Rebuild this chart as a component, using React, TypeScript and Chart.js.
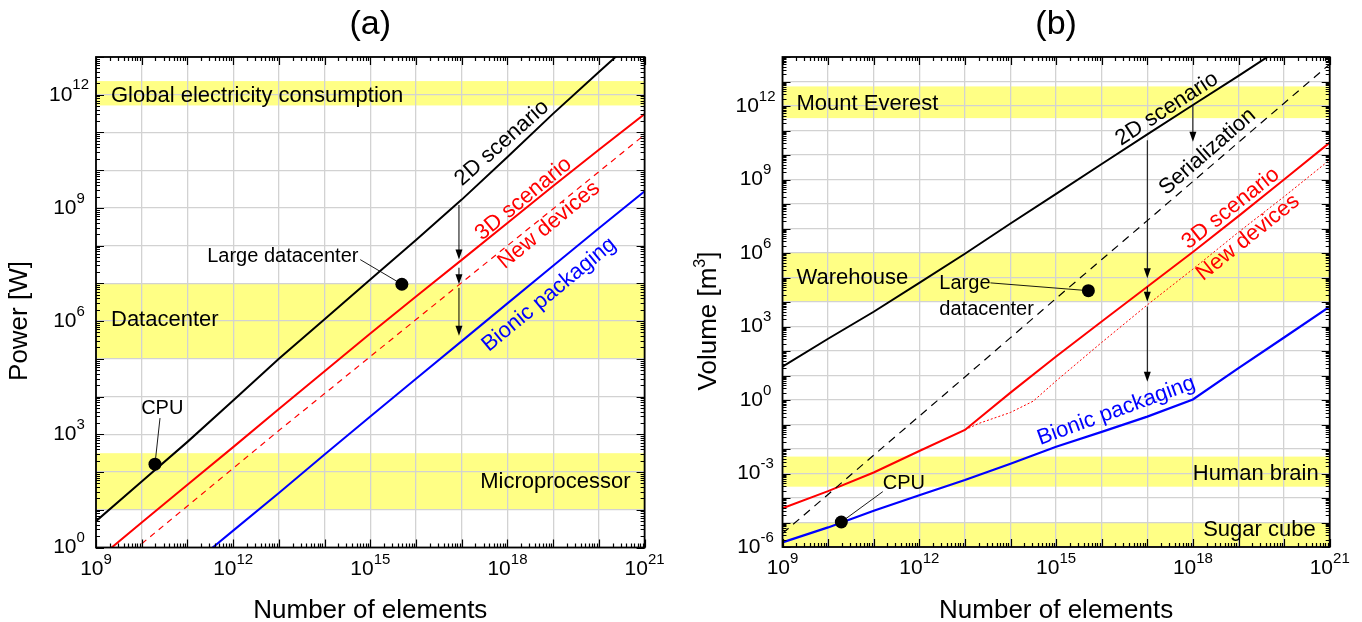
import React, { useEffect, useRef } from 'react';
import { Chart, registerables } from 'chart.js';

Chart.register(...registerables);

const FONT = '"Liberation Sans", Arial, Helvetica, sans-serif';
const BAND_COLOR = '#ffff85';
const GRID_COLOR = '#d2d2d2';
const RED = '#ff0000';
const BLUE = '#0000ff';
const BLACK = '#000000';

// ---------------- Panel (a): Power [W] ----------------
const elementsA = [1e9, 1e10, 1e11, 1e12, 1e13, 1e14, 1e15, 1e16, 1e17, 1e18, 1e19, 1e20, 1e21];
const power2D = [5.0, 56, 630, 7.9e3, 1.0e5, 1.12e6, 1.26e7, 1.41e8, 1.66e9, 2.24e10, 3.16e11, 3.98e12, 5.0e13];
const power3D = [0.45, 4.6, 46, 457, 4.7e3, 4.7e4, 4.7e5, 4.5e6, 4.2e7, 4.0e8, 3.8e9, 3.5e10, 3.1e11];
const elementsNewDevA = [1e10, 1e11, 1e12, 1e13, 1e14, 1e15, 1e16, 1e17, 1e18, 1e19, 1e20, 1e21];
const powerNewDev = [1.26, 12.6, 126, 1.26e3, 1.2e4, 1.15e5, 1.1e6, 1.05e7, 1.0e8, 9.5e8, 9.1e9, 8.7e10];
const elementsBionicA = [1e11, 1e12, 1e13, 1e14, 1e15, 1e16, 1e17, 1e18, 1e19, 1e20, 1e21];
const powerBionic = [0.28, 2.8, 28, 290, 2.95e3, 2.95e4, 2.95e5, 2.95e6, 2.95e7, 2.9e8, 2.75e9];

const markerNamesA = ['CPU', 'Large datacenter'];
const markerElementsA = [1.95e10, 4.9e15];
const markerPowerA = [162, 9.5e6];

const bandNamesA = ['Global electricity consumption', 'Datacenter', 'Microprocessor'];
const bandLowA = [5.2e11, 1e5, 10];
const bandHighA = [2.3e12, 1e7, 316];
const bandLabelAtA = [9.3e11, 1.05e6, 56];

const arrowElementsA = [8.7e16, 8.7e16, 8.7e16];
const arrowFromA = [1.2e9, 2.6e7, 7.6e6];
const arrowToA = [4.3e7, 9.5e6, 4.1e5];

// ---------------- Panel (b): Volume [m3] ----------------
const elementsB = [1e9, 1e10, 1e11, 1e12, 1e13, 1e14, 1e15, 1e16, 1e17, 1e18, 1e19, 1e20, 1e21];
const volume2D = [23, 316, 4.0e3, 6.0e4, 9.3e5, 1.6e7, 2.6e8, 4.3e9, 6.9e10, 1.1e12, 1.7e13, 2.8e14, 4.4e15];
const volumeSerial = [3.6e-6, 1.4e-4, 5.6e-3, 0.22, 8.7, 350, 1.4e4, 5.4e5, 2.1e7, 8.3e8, 3.3e10, 1.3e12, 5.1e13];
const volume3D = [3.8e-5, 1.9e-4, 1.1e-3, 8.3e-3, 0.06, 2.0, 60, 1.6e3, 4.2e4, 1.1e6, 3.2e7, 1.0e9, 3.2e10];
const elementsNewDevB = [1e13, 2e13, 1e14, 3.16e14, 1e15, 1e16, 1e17, 1e18, 1e19, 1e20, 1e21];
const volumeNewDev = [0.06, 0.11, 0.31, 0.9, 6.0, 224, 7.6e3, 2.2e5, 7.1e6, 2.0e8, 6.3e9];
const volumeBionic = [1.55e-6, 6.3e-6, 3.0e-5, 1.3e-4, 5.4e-4, 2.5e-3, 0.0123, 0.05, 0.21, 1.05, 20, 355, 6.5e3];

const markerNamesB = ['CPU', 'Large datacenter'];
const markerElementsB = [1.95e10, 5.1e15];
const markerVolumeB = [1.05e-5, 2.9e4];

const bandNamesB = ['Mount Everest', 'Warehouse', 'Human brain', 'Sugar cube'];
const bandLowB = [3.2e11, 1e4, 2.9e-4, 1e-6];
const bandHighB = [6.3e12, 1e6, 4.9e-3, 1e-5];
const bandLabelAtB = [1.2e12, 9.3e4, 1e-3, 5e-6];

const arrowElementsB = [1e17, 1e17, 1e17, 1e18];
const arrowFromB = [4e10, 4.2e4, 6.5e3, 1.1e12];
const arrowToB = [9.3e4, 1.02e4, 5.6, 3.5e10];

// tick label exponents
const xTickExps = [9, 12, 15, 18, 21];
const yTickExpsA = [0, 3, 6, 9, 12];
const yTickExpsB = [-6, -3, 0, 3, 6, 9, 12];

const zip = (xs: number[], ys: number[]) => xs.map((x, i) => ({ x, y: ys[i] }));

type Panel = {
  title: string;
  yTitle: string;
  yTitleSup?: string;
  yTitleTail?: string;
  yMinExp: number;
  yMaxExp: number;
  yTickExps: number[];
  padding: { left: number; right: number; top: number; bottom: number };
  series: { xs: number[]; ys: number[]; color: string; width: number; dash?: number[] }[];
  markers: { names: string[]; xs: number[]; ys: number[] };
  bands: { names: string[]; low: number[]; high: number[]; at: number[]; align: string[]; inset: number[] };
  arrows: { xs: number[]; from: number[]; to: number[] };
  rotLabels: { text: string; x: number; y: number; angle: number; color: string }[];
  callouts: { lines: string[]; x: number; y: number; align: string; lx: number; ly: number; px: number; py: number }[];
};

const panelA: Panel = {
  title: '(a)',
  yTitle: 'Power [W]',
  yMinExp: 0,
  yMaxExp: 13,
  yTickExps: yTickExpsA,
  padding: { left: 96, right: 36.4, top: 57, bottom: 74.5 },
  series: [
    { xs: elementsA, ys: power2D, color: BLACK, width: 2 },
    { xs: elementsA, ys: power3D, color: RED, width: 2 },
    { xs: elementsNewDevA, ys: powerNewDev, color: RED, width: 1.2, dash: [6, 5] },
    { xs: elementsBionicA, ys: powerBionic, color: BLUE, width: 2 },
  ],
  markers: { names: markerNamesA, xs: markerElementsA, ys: markerPowerA },
  bands: { names: bandNamesA, low: bandLowA, high: bandHighA, at: bandLabelAtA, align: ['left', 'left', 'right'], inset: [15, 15, 14] },
  arrows: { xs: arrowElementsA, from: arrowFromA, to: arrowToA },
  rotLabels: [
    { text: '2D scenario', x: 10 ** 17.88, y: 10 ** 10.72, angle: -41.5, color: BLACK },
    { text: '3D scenario', x: 10 ** 18.35, y: 10 ** 9.24, angle: -39.5, color: RED },
    { text: 'New devices', x: 10 ** 18.91, y: 10 ** 8.54, angle: -39.5, color: RED },
    { text: 'Bionic packaging', x: 10 ** 18.91, y: 10 ** 6.7, angle: -39.5, color: BLUE },
  ],
  callouts: [
    { lines: [markerNamesA[1]], x: 10 ** 14.74, y: 10 ** 7.71, align: 'right', lx: 10 ** 14.78, ly: 10 ** 7.63, px: markerElementsA[1], py: markerPowerA[1] },
    { lines: [markerNamesA[0]], x: 10 ** 10.45, y: 10 ** 3.69, align: 'center', lx: 10 ** 10.4, ly: 10 ** 3.43, px: markerElementsA[0], py: markerPowerA[0] },
  ],
};

const panelB: Panel = {
  title: '(b)',
  yTitle: 'Volume [m',
  yTitleSup: '3',
  yTitleTail: ']',
  yMinExp: -6,
  yMaxExp: 14,
  yTickExps: yTickExpsB,
  padding: { left: 101.5, right: 32.3, top: 57, bottom: 75 },
  series: [
    { xs: elementsB, ys: volume2D, color: BLACK, width: 2 },
    { xs: elementsB, ys: volumeSerial, color: BLACK, width: 1.2, dash: [8, 6] },
    { xs: elementsB, ys: volume3D, color: RED, width: 2 },
    { xs: elementsNewDevB, ys: volumeNewDev, color: RED, width: 1, dash: [2, 2] },
    { xs: elementsB, ys: volumeBionic, color: BLUE, width: 2.2 },
  ],
  markers: { names: markerNamesB, xs: markerElementsB, ys: markerVolumeB },
  bands: { names: bandNamesB, low: bandLowB, high: bandHighB, at: bandLabelAtB, align: ['left', 'left', 'right', 'right'], inset: [14, 14, 11, 14] },
  arrows: { xs: arrowElementsB, from: arrowFromB, to: arrowToB },
  rotLabels: [
    { text: '2D scenario', x: 10 ** 17.43, y: 10 ** 11.88, angle: -33, color: BLACK },
    { text: 'Serialization', x: 10 ** 18.32, y: 10 ** 10.13, angle: -41, color: BLACK },
    { text: '3D scenario', x: 10 ** 18.83, y: 10 ** 7.82, angle: -38.5, color: RED },
    { text: 'New devices', x: 10 ** 19.21, y: 10 ** 6.63, angle: -38.5, color: RED },
    { text: 'Bionic packaging', x: 10 ** 16.32, y: 10 ** -0.44, angle: -20, color: BLUE },
  ],
  callouts: [
    { lines: ['Large', 'datacenter'], x: 10 ** 12.44, y: 10 ** 4.76, align: 'left', lx: 10 ** 13.56, ly: 10 ** 4.78, px: markerElementsB[1], py: markerVolumeB[1] },
    { lines: [markerNamesB[0]], x: 10 ** 11.2, y: 10 ** -3.4, align: 'left', lx: 10 ** 11.2, ly: 10 ** -3.74, px: markerElementsB[0], py: markerVolumeB[0] },
  ],
};

function decades(a: number, b: number) {
  const out: { value: number }[] = [];
  for (let e = a; e <= b; e++) out.push({ value: Number('1e' + e) });
  return out;
}

function drawTickLabel(ctx: any, exp: number, cx: number, cy: number) {
  const e = String(exp);
  ctx.font = `21px ${FONT}`;
  const w1 = ctx.measureText('10').width;
  ctx.font = `15px ${FONT}`;
  const w2 = ctx.measureText(e).width;
  const x0 = cx - (w1 + w2) / 2;
  ctx.textAlign = 'left';
  ctx.textBaseline = 'middle';
  ctx.font = `21px ${FONT}`;
  ctx.fillText('10', x0, cy);
  ctx.font = `15px ${FONT}`;
  ctx.fillText(e, x0 + w1, cy - 9.5);
}

function drawArrow(ctx: any, x: number, y1: number, y2: number) {
  const head = 10;
  const hw = 3.5;
  ctx.beginPath();
  ctx.moveTo(x, y1);
  ctx.lineTo(x, y2 - head + 1);
  ctx.stroke();
  ctx.beginPath();
  ctx.moveTo(x, y2);
  ctx.lineTo(x - hw, y2 - head);
  ctx.lineTo(x + hw, y2 - head);
  ctx.closePath();
  ctx.fill();
}

function decorPlugin(p: Panel) {
  return {
    id: 'decor',
    beforeDraw(chart: any) {
      const { ctx, chartArea: a } = chart;
      const ys = chart.scales.y;
      ctx.save();
      ctx.fillStyle = BAND_COLOR;
      p.bands.low.forEach((lo, i) => {
        const t = Math.max(ys.getPixelForValue(p.bands.high[i]), a.top);
        const b = Math.min(ys.getPixelForValue(lo), a.bottom);
        ctx.fillRect(a.left, t, a.right - a.left, b - t);
      });
      ctx.restore();
    },
    afterDatasetsDraw(chart: any) {
      const { ctx, chartArea: a } = chart;
      const xs = chart.scales.x;
      const ys = chart.scales.y;
      ctx.save();
      // band labels
      ctx.fillStyle = BLACK;
      ctx.font = `22px ${FONT}`;
      ctx.textBaseline = 'middle';
      p.bands.names.forEach((name, i) => {
        const y = ys.getPixelForValue(p.bands.at[i]);
        if (p.bands.align[i] === 'left') {
          ctx.textAlign = 'left';
          ctx.fillText(name, a.left + p.bands.inset[i], y);
        } else {
          ctx.textAlign = 'right';
          ctx.fillText(name, a.right - p.bands.inset[i], y);
        }
      });
      // rotated curve labels
      p.rotLabels.forEach((l) => {
        ctx.save();
        ctx.translate(xs.getPixelForValue(l.x), ys.getPixelForValue(l.y));
        ctx.rotate((l.angle * Math.PI) / 180);
        ctx.fillStyle = l.color;
        ctx.font = `22px ${FONT}`;
        ctx.textAlign = 'center';
        ctx.textBaseline = 'middle';
        ctx.fillText(l.text, 0, 0);
        ctx.restore();
      });
      // arrows
      ctx.strokeStyle = BLACK;
      ctx.fillStyle = BLACK;
      ctx.lineWidth = 1;
      p.arrows.xs.forEach((x, i) => {
        const px = xs.getPixelForValue(x);
        drawArrow(ctx, px, ys.getPixelForValue(p.arrows.from[i]), ys.getPixelForValue(p.arrows.to[i]));
      });
      // callouts
      ctx.font = `20px ${FONT}`;
      ctx.textBaseline = 'middle';
      p.callouts.forEach((c) => {
        const tx = xs.getPixelForValue(c.x);
        const ty = ys.getPixelForValue(c.y);
        ctx.fillStyle = BLACK;
        ctx.textAlign = c.align;
        c.lines.forEach((line, k) => ctx.fillText(line, tx, ty + k * 26));
        ctx.beginPath();
        ctx.lineWidth = 0.9;
        ctx.moveTo(xs.getPixelForValue(c.lx), ys.getPixelForValue(c.ly));
        ctx.lineTo(xs.getPixelForValue(c.px), ys.getPixelForValue(c.py));
        ctx.stroke();
      });
      ctx.restore();
    },
    afterDraw(chart: any) {
      const { ctx, chartArea: a } = chart;
      const xs = chart.scales.x;
      const ys = chart.scales.y;
      ctx.save();
      // tick marks (inward, all four sides)
      ctx.strokeStyle = BLACK;
      ctx.lineWidth = 1.2;
      ctx.beginPath();
      for (let e = 9; e <= 21; e++) {
        for (let m = 1; m <= 9; m++) {
          const v = m * Number('1e' + e);
          if (v > 1e21 * 1.0001) break;
          const px = Math.round(xs.getPixelForValue(v)) + 0.5;
          const len = m === 1 ? 8 : 4;
          ctx.moveTo(px, a.bottom);
          ctx.lineTo(px, a.bottom - len);
          ctx.moveTo(px, a.top);
          ctx.lineTo(px, a.top + len);
        }
      }
      for (let e = p.yMinExp; e <= p.yMaxExp; e++) {
        for (let m = 1; m <= 9; m++) {
          const v = m * Number('1e' + e);
          if (v > Number('1e' + p.yMaxExp) * 1.0001) break;
          const py = Math.round(ys.getPixelForValue(v)) + 0.5;
          const len = m === 1 ? 8 : 4;
          ctx.moveTo(a.left, py);
          ctx.lineTo(a.left + len, py);
          ctx.moveTo(a.right, py);
          ctx.lineTo(a.right - len, py);
        }
      }
      ctx.stroke();
      // frame
      ctx.lineWidth = 1.8;
      ctx.strokeRect(a.left, a.top, a.right - a.left, a.bottom - a.top);
      // tick labels
      ctx.fillStyle = BLACK;
      xTickExps.forEach((e) => drawTickLabel(ctx, e, xs.getPixelForValue(Number('1e' + e)), a.bottom + 21.5));
      p.yTickExps.forEach((e) => drawTickLabel(ctx, e, a.left - 27, ys.getPixelForValue(Number('1e' + e))));
      // panel title
      const cx = (a.left + a.right) / 2;
      ctx.font = `34px ${FONT}`;
      ctx.textAlign = 'center';
      ctx.textBaseline = 'alphabetic';
      ctx.fillText(p.title, cx, 34);
      // x title
      ctx.font = `26px ${FONT}`;
      ctx.fillText('Number of elements', cx, 618);
      // y title (rotated)
      ctx.save();
      const tx = p.yTitleSup ? a.left - 66.5 : a.left - 69;
      ctx.translate(tx, 321);
      ctx.rotate(-Math.PI / 2);
      ctx.textAlign = 'left';
      ctx.font = `26px ${FONT}`;
      const w1 = ctx.measureText(p.yTitle).width;
      let w2 = 0;
      let w3 = 0;
      if (p.yTitleSup) {
        ctx.font = `16px ${FONT}`;
        w2 = ctx.measureText(p.yTitleSup).width;
        ctx.font = `26px ${FONT}`;
        w3 = ctx.measureText(p.yTitleTail || '').width;
      }
      const x0 = -(w1 + w2 + w3) / 2;
      ctx.font = `26px ${FONT}`;
      ctx.fillText(p.yTitle, x0, 0);
      if (p.yTitleSup) {
        ctx.font = `16px ${FONT}`;
        ctx.fillText(p.yTitleSup, x0 + w1, -11);
        ctx.font = `26px ${FONT}`;
        ctx.fillText(p.yTitleTail || '', x0 + w1 + w2, 0);
      }
      ctx.restore();
      ctx.restore();
    },
  };
}

function makeConfig(p: Panel): any {
  const datasets: any[] = [
    {
      data: zip(p.markers.xs, p.markers.ys),
      showLine: false,
      pointRadius: 6.5,
      pointBackgroundColor: BLACK,
      pointBorderColor: BLACK,
      pointBorderWidth: 0,
    },
    ...p.series.map((s) => ({
      data: zip(s.xs, s.ys),
      showLine: true,
      borderColor: s.color,
      borderWidth: s.width,
      borderDash: s.dash || [],
      pointRadius: 0,
      fill: false,
      tension: 0,
    })),
  ];
  return {
    type: 'scatter',
    data: { datasets },
    options: {
      responsive: false,
      animation: false,
      events: [],
      layout: { padding: p.padding },
      plugins: { legend: { display: false }, tooltip: { enabled: false }, title: { display: false } },
      scales: {
        x: {
          type: 'logarithmic',
          min: 1e9,
          max: 1e21,
          afterBuildTicks: (s: any) => {
            s.ticks = decades(9, 21);
          },
          ticks: { display: false },
          grid: { color: GRID_COLOR, lineWidth: 1.3, drawTicks: false },
          border: { display: false },
        },
        y: {
          type: 'logarithmic',
          min: Number('1e' + p.yMinExp),
          max: Number('1e' + p.yMaxExp),
          afterBuildTicks: (s: any) => {
            s.ticks = decades(p.yMinExp, p.yMaxExp);
          },
          ticks: { display: false },
          grid: { color: GRID_COLOR, lineWidth: 1.3, drawTicks: false },
          border: { display: false },
        },
      },
    },
    plugins: [decorPlugin(p)],
  };
}

function PanelChart({ panel, left }: { panel: Panel; left: number }) {
  const ref = useRef<HTMLCanvasElement>(null);
  useEffect(() => {
    const chart = new Chart(ref.current as HTMLCanvasElement, makeConfig(panel));
    return () => chart.destroy();
  }, [panel]);
  return (
    <canvas
      ref={ref}
      width={681}
      height={622}
      style={{ position: 'absolute', left, top: 0, width: 681, height: 622 }}
    />
  );
}

export default function App() {
  return (
    <div style={{ position: 'fixed', left: 0, top: 0, width: 1362, height: 622, background: '#ffffff' }}>
      <PanelChart panel={panelA} left={0} />
      <PanelChart panel={panelB} left={681} />
    </div>
  );
}
